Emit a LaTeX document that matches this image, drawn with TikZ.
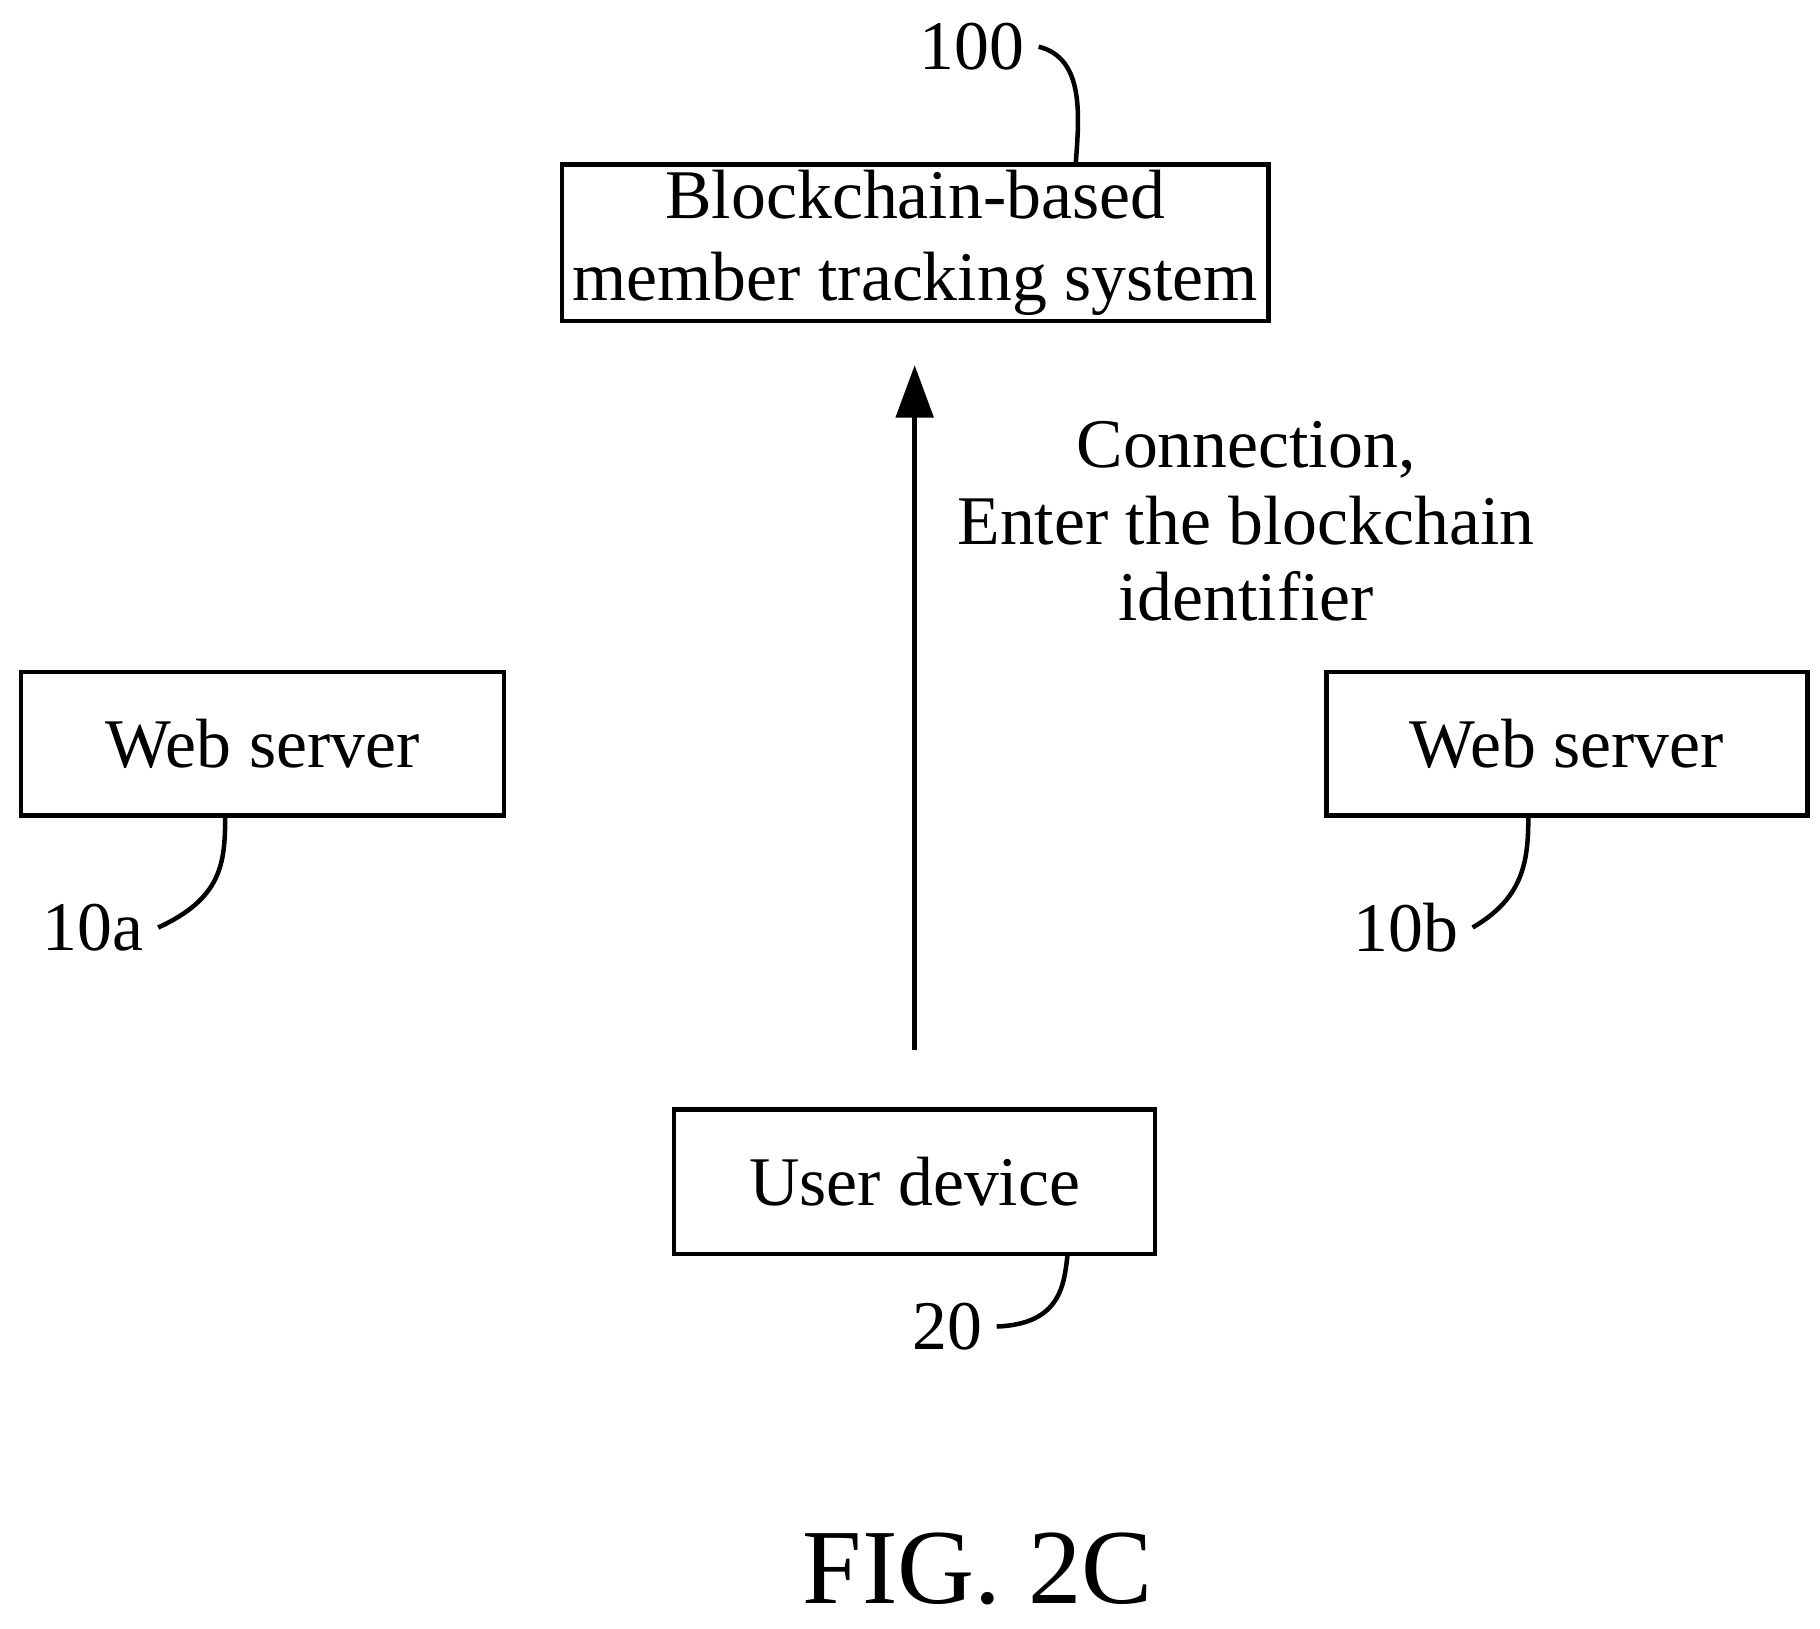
\documentclass[tikz,border=0pt]{standalone}
\usepackage{fontspec}
\setmainfont{Liberation Serif}
\usetikzlibrary{arrows.meta}
\begin{document}
\begin{tikzpicture}[
		x=0.01cm, y=-0.01cm,
		box/.style={draw, line width=1.1pt, inner sep=0pt, font=\fontsize{17}{20}\selectfont, align=center},
		lbl/.style={font=\fontsize{17}{18.6}\selectfont},
		lead/.style={line width=1.1pt}
	]
  \useasboundingbox (0,0) rectangle (1560,1396);
  % boxes
  \node (sys) [box, minimum width=6.05cm, minimum height=1.34cm] at (784.5,208) {Blockchain-based\\member tracking system};
  \node (wa) [box, minimum width=4.14cm, minimum height=1.23cm] at (225,637.5) {Web server};
  \node (wb) [box, minimum width=4.12cm, minimum height=1.23cm] at (1343,637.5) {Web server};
  \node (ud) [box, minimum width=4.12cm, minimum height=1.24cm] at (784,1013) {User device};
  % arrow
  \coordinate (a0) at (784,900);
  \coordinate (a1) at (784,313);
  \draw [lead, -{Triangle[length=4.5mm, width=3.2mm]}] (a0) -- (a1);
  \node (conn) [lbl, align=center] at (1068,447) {Connection,\\Enter the blockchain\\identifier};
  % reference numerals
  \node (n100) [lbl] at (833,40) {100};
  \node (n10a) [lbl] at (80,795) {10a};
  \node (n10b) [lbl] at (1205,795) {10b};
  \node (n20) [lbl] at (812,1137) {20};
  \draw [lead] (n100.east) .. controls (930,50) and (925,100) .. (922,141);
  \draw [lead] (n10a.east) .. controls (190,770) and (193,740) .. (193,700);
  \draw [lead] (n10b.east) .. controls (1305,770) and (1310,740) .. (1310,700);
  \draw [lead] (n20.east) .. controls (910,1135) and (912,1100) .. (915,1076);
  \node (fig) [font=\fontsize{26}{30}\selectfont] at (838,1345) {FIG. 2C};
\end{tikzpicture}
\end{document}
